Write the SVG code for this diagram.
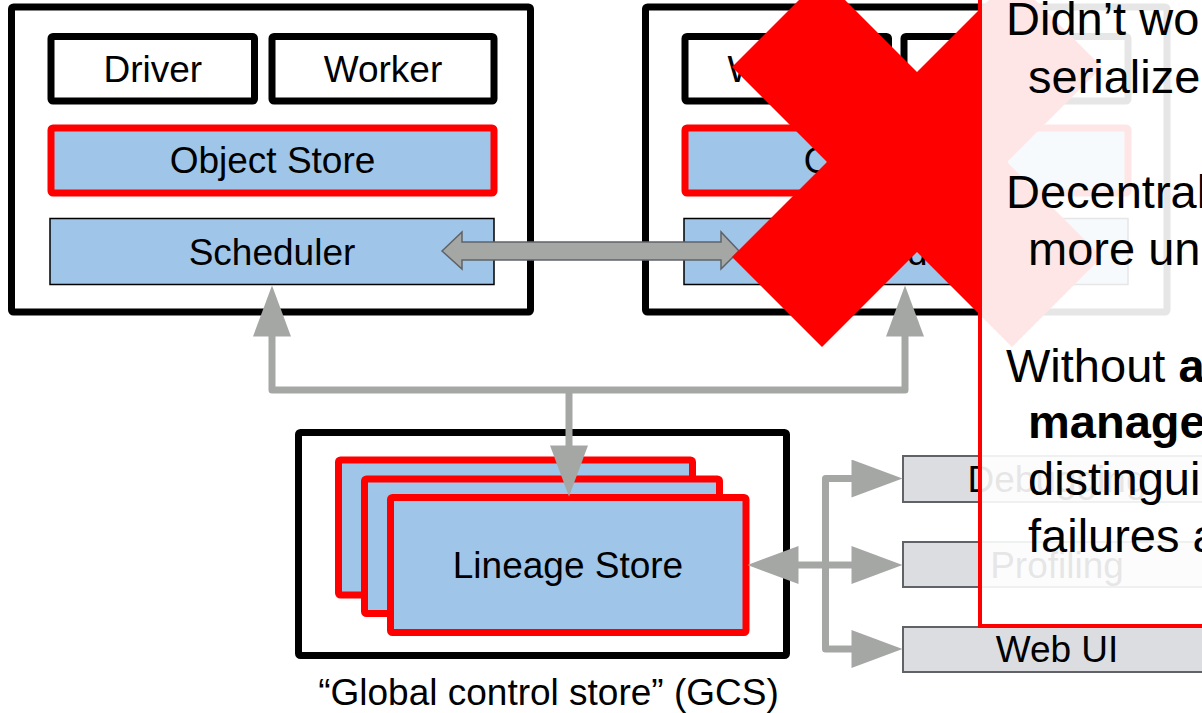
<svg xmlns="http://www.w3.org/2000/svg" width="1202" height="713" viewBox="0 0 1202 713">
<style>
  .outer { fill: #ffffff; stroke: #000000; stroke-width: 7; stroke-linejoin: round; }
  .proc { fill: #ffffff; stroke: #000000; stroke-width: 7; stroke-linejoin: round; }
  .store { fill: #9fc5e8; stroke: #ff0000; stroke-width: 7; stroke-linejoin: round; }
  .sched { fill: #9fc5e8; stroke: #000000; stroke-width: 1.5; }
  .tool { fill: #dcdde0; stroke: #5f6368; stroke-width: 2; }
  .lbl { font-family: "Liberation Sans", Arial, sans-serif; font-size: 37px; fill: #000000; text-anchor: middle; }
  .conn { fill: none; stroke: #a5a7a5; stroke-width: 7; stroke-linejoin: round; }
  .panel-text { font-family: "Liberation Sans", Arial, sans-serif; font-size: 47px; fill: #000000; }
</style>
<defs>
  <marker id="head" markerUnits="userSpaceOnUse" markerWidth="52" markerHeight="38" viewBox="0 0 51 38" refX="0.5" refY="19" orient="auto-start-reverse">
    <path d="M0,0 L51,19 L0,38 Z" fill="#a5a7a5"/>
  </marker>
</defs>
<rect x="0" y="0" width="1202" height="713" fill="#ffffff"/>

<g id="node1">
  <rect class="outer" x="11.5" y="7" width="519" height="305" rx="2"/>
  <rect class="proc" x="51" y="36.5" width="203.5" height="64.5" rx="2"/>
  <text class="lbl" x="152.75" y="82">Driver</text>
  <rect class="proc" x="272" y="36.5" width="222" height="64.5" rx="2"/>
  <text class="lbl" x="383" y="82">Worker</text>
  <rect class="store" x="51" y="128" width="443" height="65" rx="2"/>
  <text class="lbl" x="272.5" y="173">Object Store</text>
  <rect class="sched" x="50" y="218.5" width="444" height="66"/>
  <text class="lbl" x="272" y="265">Scheduler</text>
</g>

<g id="node2">
  <rect class="outer" x="645.5" y="7" width="521.5" height="305" rx="2"/>
  <rect class="proc" x="685" y="36.5" width="203.5" height="64.5" rx="2"/>
  <text class="lbl" x="786.75" y="82">Worker</text>
  <rect class="proc" x="904" y="36.5" width="224" height="64.5" rx="2"/>
  <rect class="store" x="685" y="128" width="443" height="65" rx="2"/>
  <text class="lbl" x="906.5" y="173">Object Store</text>
  <rect class="sched" x="684" y="218.5" width="444" height="66"/>
  <text class="lbl" x="906" y="265">Scheduler</text>
</g>

<g id="gcs">
  <rect class="outer" x="298.5" y="432.5" width="488" height="223" rx="2"/>
  <rect class="store" x="338.5" y="460" width="354" height="135" rx="2"/>
  <rect class="store" x="364.5" y="479" width="355" height="134.5" rx="2"/>
  <rect class="store" x="390.5" y="497.5" width="355.5" height="135" rx="2"/>
  <text class="lbl" x="568" y="578">Lineage Store</text>
  <text class="lbl" x="548.5" y="705">“Global control store” (GCS)</text>
</g>

<g id="debugging">
  <rect class="tool" x="903" y="456" width="320" height="46"/>
  <text class="lbl" x="1057" y="492">Debugging</text>
</g>
<g id="profiling">
  <rect class="tool" x="903" y="542" width="320" height="45"/>
  <text class="lbl" x="1057" y="578">Profiling</text>
</g>
<g id="webui">
  <rect class="tool" x="903" y="627" width="320" height="45"/>
  <text class="lbl" x="1057" y="662">Web UI</text>
</g>

<g id="connectors">
  <path class="conn" d="M272,336 V390 H905 V336" marker-start="url(#head)" marker-end="url(#head)"/>
  <path class="conn" d="M569,390 V446" marker-end="url(#head)"/>
  <path class="conn" d="M798,565 H852" marker-start="url(#head)" marker-end="url(#head)"/>
  <path class="conn" d="M852,478.5 H825.5 V649 H852" marker-start="url(#head)" marker-end="url(#head)"/>
  <polygon points="442,251 462,232 462,242 721,242 721,232 739,251 721,269 721,260 462,260 462,269" fill="#a5a7a5" stroke="#5f6368" stroke-width="1.5" stroke-linejoin="miter"/>
</g>

<g id="cross">
  <polygon points="917,72 1012,-23 1102,67 1007,162 1102,257 1012,347 917,252 822,347 732,257 827,162 732,67 822,-23" fill="#ff0000"/>
</g>

<g id="panel">
  <rect x="980" y="-10" width="240" height="636" fill="#ffffff" fill-opacity="0.9" stroke="#ff0000" stroke-width="4"/>
  <text class="panel-text" x="1006" y="35">Didn’t wo</text>
  <text class="panel-text" x="1028" y="93">serialize</text>
  <text class="panel-text" x="1006" y="208">Decentral</text>
  <text class="panel-text" x="1028" y="265">more un</text>
  <text class="panel-text" x="1006" y="382">Without <tspan font-weight="bold">a</tspan></text>
  <text class="panel-text" x="1028" y="438" font-weight="bold">manage</text>
  <text class="panel-text" x="1028" y="495">distingui</text>
  <text class="panel-text" x="1028" y="552">failures a</text>
</g>
</svg>
